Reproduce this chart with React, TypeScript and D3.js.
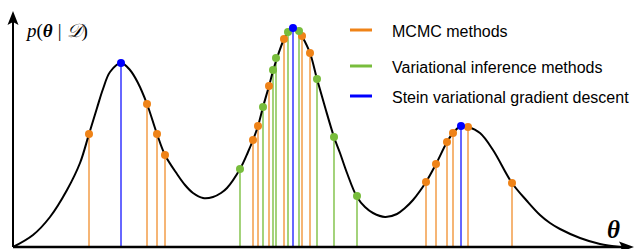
import React from "react";
import * as d3 from "d3";

// density curve (theta, p)
const curveTheta = [0, 0.2, 0.37, 0.54, 0.67, 0.76, 0.84, 0.9, 0.97, 1.08, 1.17, 1.25, 1.34, 1.44, 1.52, 1.64, 1.72, 1.8, 1.9, 2.0, 2.08, 2.14, 2.27, 2.35, 2.4, 2.45, 2.5, 2.56, 2.6, 2.64, 2.71, 2.75, 2.8, 2.86, 2.89, 2.97, 3.04, 3.12, 3.21, 3.27, 3.34, 3.44, 3.52, 3.6, 3.72, 3.84, 3.92, 4.0, 4.13, 4.23, 4.34, 4.4, 4.48, 4.55, 4.67, 4.8, 4.99, 5.14, 5.27, 5.37, 5.47, 5.67, 5.87, 6.07];
const curveP = [0, 0.12, 0.3, 0.57, 0.84, 1.13, 1.39, 1.58, 1.75, 1.84, 1.77, 1.64, 1.43, 1.13, 0.92, 0.73, 0.62, 0.54, 0.49, 0.5, 0.54, 0.59, 0.78, 0.95, 1.07, 1.21, 1.4, 1.61, 1.76, 1.89, 2.08, 2.15, 2.19, 2.16, 2.11, 1.94, 1.68, 1.4, 1.1, 0.94, 0.74, 0.5, 0.4, 0.34, 0.3, 0.33, 0.39, 0.47, 0.65, 0.83, 1.05, 1.14, 1.21, 1.2, 1.14, 0.97, 0.64, 0.46, 0.32, 0.24, 0.18, 0.09, 0.03, 0];

// samples of each method
const mcmcTheta = [0.76, 1.34, 1.44, 1.52, 2.4, 2.45, 2.56, 2.71, 2.89, 2.97, 4.13, 4.23, 4.34, 4.4, 4.55, 4.99];
const mcmcP = [1.13, 1.43, 1.13, 0.92, 1.07, 1.21, 1.61, 2.08, 2.11, 1.94, 0.65, 0.83, 1.05, 1.14, 1.2, 0.64];
const viTheta = [2.27, 2.5, 2.6, 2.63, 2.75, 2.86, 3.04, 3.21, 3.44];
const viP = [0.78, 1.4, 1.77, 1.89, 2.15, 2.16, 1.68, 1.1, 0.51];
const svgdTheta = [1.08, 2.8, 4.48];
const svgdP = [1.84, 2.19, 1.21];

const legendLabels = ["MCMC methods", "Variational inference methods", "Stein variational gradient descent"];

const ORANGE = "#ef8318";
const GREEN = "#78bd3c";
const BLUE = "#0000ff";

const W = 635;
const H = 249;

export default function App() {
  const x = d3.scaleLinear().domain([0, 6.2]).range([13, 633]);
  const y = d3.scaleLinear().domain([0, 2.2]).range([247, 27]);
  const base = y(0);

  const curve = curveTheta.map((t, i) => [t, curveP[i]] as [number, number]);
  const line = d3
    .line<[number, number]>()
    .x((d) => x(d[0]))
    .y((d) => y(d[1]))
    .curve(d3.curveCatmullRom.alpha(0.5));

  const groups = [
    { th: mcmcTheta, p: mcmcP, color: ORANGE, op: 0.75 },
    { th: viTheta, p: viP, color: GREEN, op: 0.85 },
    { th: svgdTheta, p: svgdP, color: BLUE, op: 0.75 },
  ];

  const legendColors = [ORANGE, GREEN, BLUE];
  const legendY = [30, 66, 96];

  return (
    <svg
      width={W}
      height={H}
      style={{ position: "fixed", left: 0, top: 0, background: "#fff" }}
    >
      {/* stems */}
      {groups.map((g, gi) =>
        g.th.map((t, i) => (
          <line
            key={`s${gi}-${i}`}
            x1={x(t)}
            x2={x(t)}
            y1={base}
            y2={y(g.p[i])}
            stroke={g.color}
            strokeOpacity={g.op}
            strokeWidth={1.6}
          />
        ))
      )}

      {/* density */}
      <path d={line(curve) || ""} fill="none" stroke="#000" strokeWidth={2} />

      {/* dots */}
      {groups.map((g, gi) =>
        g.th.map((t, i) => (
          <circle key={`d${gi}-${i}`} cx={x(t)} cy={y(g.p[i])} r={4} fill={g.color} />
        ))
      )}

      {/* axes */}
      <line x1={13} y1={247} x2={13} y2={20} stroke="#000" strokeWidth={2} />
      <path d="M13,11 L18.5,25 L13,22 L7.5,25 Z" fill="#000" />
      <line x1={13} y1={247} x2={624} y2={247} stroke="#000" strokeWidth={2.5} />
      <path d="M634,247 L619,241.5 L622,247 L619,252.5 Z" fill="#000" />

      <text x={27} y={37} fontFamily="'Liberation Serif', serif" fontSize={19} fontStyle="italic" fill="#000">
        p<tspan fontStyle="normal">(</tspan>
        <tspan fontWeight="bold">θ</tspan>
        <tspan fontStyle="normal" dx={5}>|</tspan>
        <tspan dx={5}>𝒟</tspan>
        <tspan fontStyle="normal">)</tspan>
      </text>
      <text x={607} y={238} fontFamily="'Liberation Serif', serif" fontSize={25} fontStyle="italic" fontWeight="bold">
        θ
      </text>

      {/* legend */}
      {legendLabels.map((lab, i) => (
        <g key={lab}>
          <line x1={350} x2={372} y1={legendY[i]} y2={legendY[i]} stroke={legendColors[i]} strokeWidth={3} />
          <text
            x={392}
            y={legendY[i] + 1}
            dy="0.35em"
            fontFamily="'Liberation Sans', Arial, sans-serif"
            fontSize={16}
            fill="#000"
          >
            {lab}
          </text>
        </g>
      ))}
    </svg>
  );
}
